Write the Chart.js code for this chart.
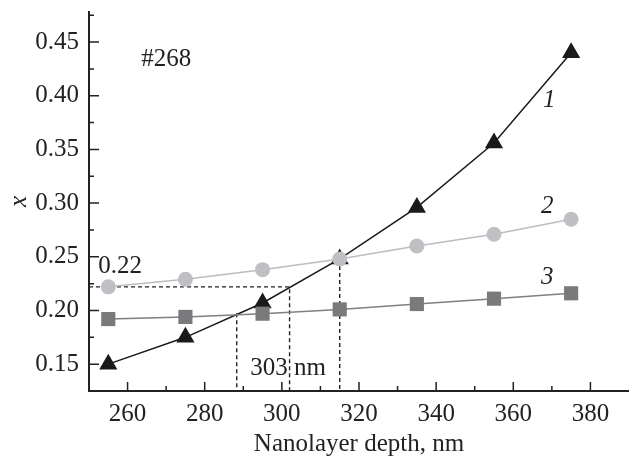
<!DOCTYPE html>
<html>
<head>
<meta charset="utf-8">
<script src="https://cdn.jsdelivr.net/npm/chart.js@4.4.0/dist/chart.umd.min.js"></script>
<style>
  html, body { margin: 0; padding: 0; background: #fff; }
  .wrap { width: 629px; height: 459px; position: relative; }
</style>
</head>
<body>
<div class="wrap"><canvas id="chart"></canvas></div>
<script>
const depth = [255, 275, 295, 315, 335, 355, 375];
const curve1 = [0.150, 0.175, 0.207, 0.248, 0.296, 0.356, 0.440];
const curve2 = [0.222, 0.229, 0.238, 0.248, 0.260, 0.271, 0.285];
const curve3 = [0.192, 0.194, 0.197, 0.201, 0.206, 0.211, 0.216];

const xTicks = [260, 280, 300, 320, 340, 360, 380];
const xMinorTicks = [270, 290, 310, 330, 350, 370];
const yTicks = [0.15, 0.20, 0.25, 0.30, 0.35, 0.40, 0.45];
const yMinorTicks = [0.175, 0.225, 0.275, 0.325, 0.375, 0.425, 0.475];

// dashed guides
const guideAX = [250, 302, 302];
const guideAY = [0.222, 0.222, 0.125];
const guideBX = [288.3, 288.3];
const guideBY = [0.1975, 0.125];
const guideCX = [315, 315];
const guideCY = [0.248, 0.125];

// text notes: label, x, y, italic
const notes = [
    ['#268', 270, 0.434, false],
    ['1', 369.3, 0.396, true],
    ['2', 368.8, 0.297, true],
    ['3', 368.8, 0.231, true],
    ['0.22', 258.1, 0.241, false],
    ['303 nm', 301.6, 0.146, false]
];

const FONT = '"Liberation Serif", "Times New Roman", serif';

const pts = (xs, ys) => xs.map((v, i) => ({ x: v, y: ys[i] }));

const guide = (xs, ys) => ({
    data: pts(xs, ys),
    showLine: true,
    borderColor: '#222',
    borderWidth: 1.4,
    borderDash: [4, 3],
    pointRadius: 0
});

// ticks pointing inside + text notes
const extras = {
    id: 'extras',
    afterDraw(chart) {
        const { ctx, chartArea: a, scales: { x, y } } = chart;
        ctx.save();
        ctx.strokeStyle = '#222';
        ctx.lineWidth = 1.5;
        ctx.beginPath();
        xTicks.forEach(v => { const p = x.getPixelForValue(v); ctx.moveTo(p, a.bottom); ctx.lineTo(p, a.bottom - 9); });
        xMinorTicks.forEach(v => { const p = x.getPixelForValue(v); ctx.moveTo(p, a.bottom); ctx.lineTo(p, a.bottom - 5); });
        yTicks.forEach(v => { const p = y.getPixelForValue(v); ctx.moveTo(a.left, p); ctx.lineTo(a.left + 10, p); });
        yMinorTicks.forEach(v => { const p = y.getPixelForValue(v); ctx.moveTo(a.left, p); ctx.lineTo(a.left + 5, p); });
        ctx.stroke();

        ctx.fillStyle = '#222';
        ctx.textAlign = 'center';
        ctx.textBaseline = 'middle';
        notes.forEach(([t, vx, vy, it]) => {
            ctx.font = (it ? 'italic ' : '') + '25px ' + FONT;
            ctx.fillText(t, x.getPixelForValue(vx), y.getPixelForValue(vy));
        });
        ctx.restore();
    }
};

new Chart(document.getElementById('chart'), {
    type: 'scatter',
    data: {
        datasets: [{
            data: pts(depth, curve2),
            showLine: true,
            borderColor: '#bdbdc0',
            borderWidth: 1.5,
            pointStyle: 'circle',
            pointRadius: 7.5,
            pointBackgroundColor: '#c0c0c4',
            pointBorderWidth: 0
        }, {
            data: pts(depth, curve3),
            showLine: true,
            borderColor: '#808080',
            borderWidth: 1.5,
            pointStyle: 'rect',
            pointRadius: 10,
            pointBackgroundColor: '#7a7a7c',
            pointBorderWidth: 0
        }, {
            data: pts(depth, curve1),
            showLine: true,
            borderColor: '#1a1a1a',
            borderWidth: 1.5,
            pointStyle: 'triangle',
            pointRadius: 10.5,
            pointBackgroundColor: '#1a1a1a',
            pointBorderWidth: 0
        },
        guide(guideAX, guideAY),
        guide(guideBX, guideBY),
        guide(guideCX, guideCY)
        ]
    },
    options: {
        responsive: true,
        maintainAspectRatio: false,
        animation: false,
        layout: {
            autoPadding: false,
            padding: { top: 12, right: 0, left: 0, bottom: 0 }
        },
        scales: {
            x: {
                type: 'linear',
                min: 250,
                max: 390,
                afterBuildTicks: s => { s.ticks = xTicks.map(v => ({ value: v })); },
                afterFit: s => { s.height = 68; s.paddingLeft = 0; s.paddingRight = 0; },
                grid: { display: false, drawTicks: false },
                border: { display: true, color: '#222', width: 2 },
                ticks: {
                    color: '#222',
                    padding: 8,
                    maxRotation: 0,
                    font: { family: FONT, size: 25 }
                },
                title: {
                    display: true,
                    text: 'Nanolayer depth, nm',
                    color: '#222',
                    padding: { top: 0, bottom: 0 },
                    font: { family: FONT, size: 25 }
                }
            },
            y: {
                type: 'linear',
                min: 0.125,
                max: 0.478,
                afterBuildTicks: s => { s.ticks = yTicks.map(v => ({ value: v })); },
                afterFit: s => { s.width = 89; s.paddingTop = 0; s.paddingBottom = 0; },
                grid: { display: false, drawTicks: false },
                border: { display: true, color: '#222', width: 2 },
                ticks: {
                    color: '#222',
                    padding: 10,
                    callback: v => v.toFixed(2),
                    font: { family: FONT, size: 25 }
                },
                title: {
                    display: true,
                    text: 'x',
                    color: '#222',
                    padding: { top: 4, bottom: 0 },
                    font: { family: FONT, size: 25, style: 'italic' }
                }
            }
        },
        plugins: {
            legend: { display: false },
            tooltip: { enabled: false }
        }
    },
    plugins: [extras]
});
</script>
</body>
</html>
